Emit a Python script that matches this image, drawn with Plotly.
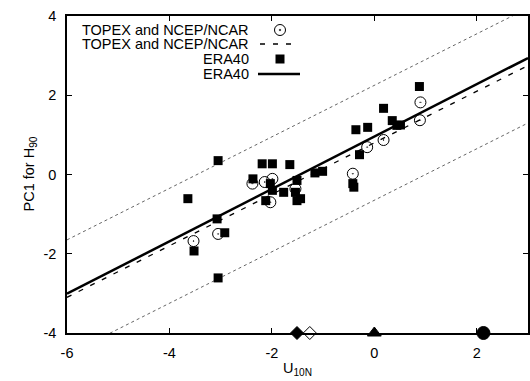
import plotly.graph_objects as go

# ---------------- data ----------------
topex_x = [-3.53, -3.05, -2.38, -2.14, -1.99, -2.03, -1.54, -0.42, -0.14, 0.18, 0.90, 0.89]
topex_y = [-1.68, -1.50, -0.23, -0.19, -0.11, -0.70, -0.36, 0.02, 0.69, 0.87, 1.82, 1.37]

era_x = [-3.64, -3.05, -3.07, -3.52, -2.92, -3.05, -2.37, -2.19, -1.99, -1.65,
         -2.03, -1.99, -1.77, -1.51, -1.54, -1.44, -1.51, -2.12, -1.16, -1.01,
         -0.42, -0.40, -0.29, -0.36, -0.13, 0.18, 0.35, 0.44, 0.51, 0.88]
era_y = [-0.61, 0.35, -1.12, -1.93, -1.47, -2.61, -0.11, 0.27, 0.27, 0.25,
         -0.23, -0.40, -0.45, -0.15, -0.45, -0.61, -0.66, -0.66, 0.04, 0.08,
         -0.23, -0.32, 0.50, 1.13, 1.19, 1.67, 1.36, 1.24, 1.25, 2.22]

# regression fits (slope, intercept) and confidence half-width
topex_fit = [0.65, 0.80]
era_fit = [0.661, 0.957]
band_halfwidth = 1.45

# reference markers along the bottom axis
ref_x = [-1.51, -1.26, 0.0, 2.13]
ref_symbols = ["diamond", "diamond-open", "triangle-up", "circle"]
ref_sizes = [10, 10, 12, 13]

x_range = [-6, 3]
y_range = [-4, 4]
x_ticks = [-6, -4, -2, 0, 2]
x_ticktext = ["-6", "-4", "-2", "0", "2"]
y_ticks = [-4, -2, 0, 2, 4]
y_ticktext = ["-4", "-2", "0", "2", "4"]

legend_labels = ["TOPEX and NCEP/NCAR", "TOPEX and NCEP/NCAR", "ERA40", "ERA40"]

FONT = "Liberation Sans, Arial, sans-serif"
FS = 14.5

def line(fit, xs, off=0.0):
    return [fit[0] * x + fit[1] + off for x in xs]

fig = go.Figure()

# confidence band (dotted)
for off in (band_halfwidth, -band_halfwidth):
    fig.add_trace(go.Scatter(x=x_range, y=line(topex_fit, x_range, off), mode="lines",
                             line=dict(color="#666666", width=1, dash="dot"),
                             showlegend=False, hoverinfo="skip"))

# TOPEX points
fig.add_trace(go.Scatter(x=topex_x, y=topex_y, mode="markers",
                         marker=dict(symbol="circle-open-dot", size=11, color="black",
                                     line=dict(width=1, color="black")),
                         showlegend=False))
# TOPEX fit
fig.add_trace(go.Scatter(x=x_range, y=line(topex_fit, x_range), mode="lines",
                         line=dict(color="black", width=1.3, dash="5px,8px"),
                         showlegend=False))
# ERA40 points
fig.add_trace(go.Scatter(x=era_x, y=era_y, mode="markers",
                         marker=dict(symbol="square", size=9, color="black"),
                         showlegend=False))
# ERA40 fit
fig.add_trace(go.Scatter(x=x_range, y=line(era_fit, x_range), mode="lines",
                         line=dict(color="black", width=2.5),
                         showlegend=False))
# reference markers on the axis
fig.add_trace(go.Scatter(x=ref_x, y=[y_range[0]] * len(ref_x), mode="markers",
                         marker=dict(symbol=ref_symbols, size=ref_sizes, color="black",
                                     opacity=1, line=dict(width=1, color="black")),
                         cliponaxis=False, showlegend=False))

# ---------- manual legend (text right aligned, sample at right) ----------
L, R, T, B = 67, 528, 16, 333
def px(xp):
    return (xp - L) / (R - L)
def py(yp):
    return (B - yp) / (B - T)

rows = [30, 44, 59, 74]
text_right = 250
sample_c = 280
shapes = []
annotations = []
for lab, ry in zip(legend_labels, rows):
    annotations.append(dict(x=px(text_right), y=py(ry), xref="paper", yref="paper",
                            text=lab, showarrow=False, xanchor="right", yanchor="middle",
                            borderpad=0,
                            font=dict(family=FONT, size=FS, color="black")))
# circle sample
shapes.append(dict(type="circle", xref="paper", yref="paper",
                   xsizemode="pixel", ysizemode="pixel",
                   xanchor=px(sample_c), yanchor=py(rows[0]),
                   x0=-5.5, x1=5.5, y0=-5.5, y1=5.5,
                   line=dict(color="black", width=1)))
shapes.append(dict(type="circle", xref="paper", yref="paper",
                   xsizemode="pixel", ysizemode="pixel",
                   xanchor=px(sample_c), yanchor=py(rows[0]),
                   x0=-0.8, x1=0.8, y0=-0.8, y1=0.8,
                   fillcolor="black", line=dict(color="black", width=0.5)))
# dashed sample
shapes.append(dict(type="line", xref="paper", yref="paper",
                   x0=px(260), x1=px(293), y0=py(rows[1]), y1=py(rows[1]),
                   line=dict(color="black", width=1.3, dash="5px,8px")))
# square sample
shapes.append(dict(type="rect", xref="paper", yref="paper",
                   xsizemode="pixel", ysizemode="pixel",
                   xanchor=px(sample_c), yanchor=py(rows[2]),
                   x0=-4.5, x1=4.5, y0=-4.5, y1=4.5,
                   fillcolor="black", line=dict(color="black", width=0)))
# solid sample
shapes.append(dict(type="line", xref="paper", yref="paper",
                   x0=px(258), x1=px(300), y0=py(rows[3]), y1=py(rows[3]),
                   line=dict(color="black", width=2.5)))

# axis titles
annotations.append(dict(x=0.5, y=0, xref="paper", yref="paper", yshift=-36,
                        text="U<sub>10N</sub>", showarrow=False,
                        xanchor="center", yanchor="middle",
                        font=dict(family=FONT, size=FS, color="black")))
annotations.append(dict(x=0, y=0.5, xref="paper", yref="paper", xshift=-38,
                        text="PC1 for H<sub>90</sub>", showarrow=False, textangle=-90,
                        xanchor="center", yanchor="middle",
                        font=dict(family=FONT, size=FS, color="black")))

axis_common = dict(showgrid=False, zeroline=False, showline=True, mirror="allticks",
                   linecolor="black", linewidth=1.5, ticks="inside", ticklen=5,
                   tickwidth=1, tickcolor="black", automargin=False,
                   tickfont=dict(family=FONT, size=FS, color="black"))

fig.update_layout(
    width=530, height=381,
    margin=dict(l=L, r=530 - R, t=T, b=381 - B, autoexpand=False),
    paper_bgcolor="white", plot_bgcolor="white",
    showlegend=False,
    xaxis=dict(range=x_range, tickvals=x_ticks, ticktext=x_ticktext,
               ticklabelstandoff=6, **axis_common),
    yaxis=dict(range=y_range, tickvals=y_ticks, ticktext=y_ticktext,
               ticklabelstandoff=6, **axis_common),
    shapes=shapes, annotations=annotations,
)

fig.write_html("out.html", config={"displayModeBar": False},
               post_script="document.body.style.margin='0';document.body.style.overflow='hidden';")
